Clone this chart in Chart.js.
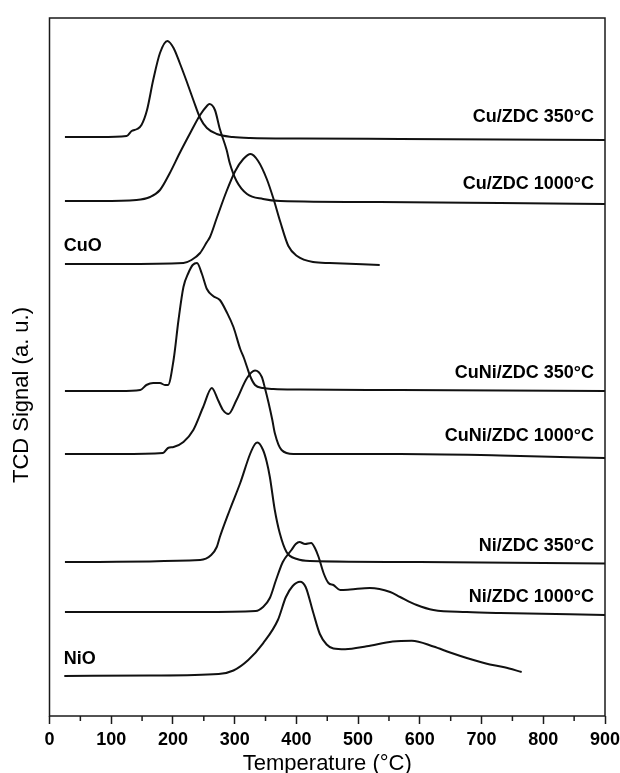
<!DOCTYPE html>
<html>
<head>
<meta charset="utf-8">
<script src="https://cdn.jsdelivr.net/npm/chart.js@4.4.1/dist/chart.umd.min.js"></script>
<style>
  html, body { margin: 0; padding: 0; background: #fff; }
  #wrap { width: 620px; height: 773px; position: relative; }
</style>
</head>
<body>
<div id="wrap"><canvas id="tpr" width="620" height="773"></canvas></div>
<script>
// H2-TPR profiles: temperature (°C) and TCD signal (a.u., vertically offset per sample)
const cuZdc350T = [25, 82, 125, 133, 142, 149, 158, 168, 179, 191, 201, 211, 222, 233, 244, 255, 271, 297, 325, 406, 568, 730, 900];
const cuZdc350S = [579, 579, 580, 585, 587, 591, 606, 636, 663, 675, 668, 653, 635, 616, 598, 588, 582, 579, 578, 577.5, 577, 576.5, 576];

const cuZdc1000T = [25, 82, 141, 163, 179, 195, 211, 228, 244, 255, 259, 268, 276, 287, 292, 303, 320, 346, 374, 535, 730, 900];
const cuZdc1000S = [515, 515, 516, 519, 526, 543, 563, 583, 601, 610, 612, 606, 587, 566, 553, 535, 522, 517, 515, 514, 513, 512];

const cuOT = [25, 114, 217, 230, 244, 255, 260, 271, 287, 301, 314, 326, 338, 352, 363, 374, 387, 401, 427, 454, 535];
const cuOS = [452, 452, 453, 456, 463, 474, 479, 498, 525, 545, 557, 562, 555, 537, 517, 494, 470, 460, 454, 453, 451];

const cuNiZdc350T = [25, 114, 147, 157, 168, 179, 187, 192, 201, 209, 217, 225, 232, 239, 247, 255, 265, 276, 287, 298, 309, 315, 320, 325, 333, 346, 363, 406, 568, 900];
const cuNiZdc350S = [325, 325, 326, 331, 333, 333, 331, 331, 356, 396, 429, 443, 451, 453, 442, 427, 420, 416, 404, 389, 367, 358, 349, 340, 331, 328, 327, 326.5, 326, 325];

const cuNiZdc1000T = [25, 114, 184, 192, 201, 217, 233, 249, 263, 273, 281, 290, 303, 320, 333, 344, 349, 355, 361, 365, 376, 395, 568, 730, 900];
const cuNiZdc1000S = [262, 262, 263, 268, 269, 274, 286, 309, 328, 316, 306, 302, 316, 338, 345.5, 339, 328, 313, 296, 283, 266, 262, 262, 260.5, 258];

const niZdc350T = [25, 244, 262, 271, 276, 292, 309, 325, 333, 337, 346, 352, 357, 365, 373, 384, 401, 422, 600, 900];
const niZdc350S = [154, 156, 161, 169, 179, 206, 233, 262, 272, 273.5, 266, 254, 239, 206, 183, 164, 157, 155, 154, 152.5];

const niZdc1000T = [25, 244, 334, 346, 357, 367, 378, 392, 399, 405, 414, 424, 430, 436, 444, 452, 460, 471, 487, 519, 552, 568, 595, 622, 676, 730, 900];
const niZdc1000S = [104, 104, 105, 109, 118, 136, 154, 166, 172, 174, 172, 173, 168, 159, 143, 133, 131, 126, 126.5, 128, 124, 119, 111, 106, 104, 103, 101];

const niOT = [24, 163, 274, 298, 322, 346, 370, 383, 394, 406, 415, 427, 438, 449, 460, 479, 514, 556, 587, 622, 649, 676, 707, 737, 765];
const niOS = [40, 40.5, 42, 45.5, 56, 72.7, 96, 119, 130, 134.3, 129, 104, 82, 71.5, 67.5, 66.7, 69.7, 74.5, 75.3, 69.5, 63.5, 58, 52.5, 48.7, 44];

// sample names and where each name sits (temperature, signal)
const sampleNames = ['Cu/ZDC 350°C', 'Cu/ZDC 1000°C', 'CuO', 'CuNi/ZDC 350°C', 'CuNi/ZDC 1000°C', 'Ni/ZDC 350°C', 'Ni/ZDC 1000°C', 'NiO'];
const nameAnchorT = [882, 882, 23, 882, 882, 882, 882, 23];
const nameAnchorS = [599, 532, 470, 343, 280, 170, 119, 57];
const nameAlign = ['right', 'right', 'left', 'right', 'right', 'right', 'right', 'left'];

const xMajorTicks = [0, 100, 200, 300, 400, 500, 600, 700, 800, 900];
const xMinorTicks = [50, 150, 250, 350, 450, 550, 650, 750, 850];

const series = [
  [cuZdc350T, cuZdc350S],
  [cuZdc1000T, cuZdc1000S],
  [cuOT, cuOS],
  [cuNiZdc350T, cuNiZdc350S],
  [cuNiZdc1000T, cuNiZdc1000S],
  [niZdc350T, niZdc350S],
  [niZdc1000T, niZdc1000S],
  [niOT, niOS]
];

const FONT = '"Liberation Sans", Arial, Helvetica, sans-serif';
const INK = '#111';

const datasets = series.map(([t, s], i) => ({
  label: sampleNames[i],
  data: t.map((v, k) => ({ x: v, y: s[k] })),
  showLine: true,
  borderColor: INK,
  borderWidth: 2,
  pointRadius: 0,
  fill: false,
  cubicInterpolationMode: 'monotone'
}));

// frame, minor ticks, sample names and axis titles
const decor = {
  id: 'decor',
  afterDraw(chart) {
    const { ctx, chartArea: a, scales: { x, y } } = chart;
    ctx.save();
    ctx.strokeStyle = '#1a1a1a';
    ctx.lineWidth = 1.5;
    ctx.strokeRect(a.left, a.top, a.right - a.left, a.bottom - a.top);

    ctx.beginPath();
    xMinorTicks.forEach(v => {
      const px = x.getPixelForValue(v);
      ctx.moveTo(px, a.bottom);
      ctx.lineTo(px, a.bottom + 5);
    });
    ctx.stroke();

    ctx.fillStyle = '#000';
    ctx.font = 'bold 18px ' + FONT;
    ctx.textBaseline = 'middle';
    sampleNames.forEach((name, i) => {
      ctx.textAlign = nameAlign[i];
      ctx.fillText(name, x.getPixelForValue(nameAnchorT[i]), y.getPixelForValue(nameAnchorS[i]));
    });

    ctx.font = '22px ' + FONT;
    ctx.textAlign = 'center';
    ctx.fillText('Temperature (°C)', (a.left + a.right) / 2, 764);

    ctx.translate(22, 395);
    ctx.rotate(-Math.PI / 2);
    ctx.fillText('TCD Signal (a. u.)', 0, 0);
    ctx.restore();
  }
};

new Chart(document.getElementById('tpr'), {
  type: 'scatter',
  data: { datasets },
  options: {
    responsive: false,
    animation: false,
    devicePixelRatio: 1,
    layout: { padding: { top: 18, right: 15, left: 0, bottom: 0 } },
    plugins: { legend: { display: false }, tooltip: { enabled: false } },
    scales: {
      x: {
        type: 'linear',
        min: 0,
        max: 900,
        afterBuildTicks: s => { s.ticks = xMajorTicks.map(v => ({ value: v })); },
        afterFit: s => { s.height = 57; s.paddingLeft = 0; s.paddingRight = 0; },
        ticks: { color: '#000', font: { family: FONT, size: 18, weight: 'bold' }, padding: 5, maxRotation: 0 },
        grid: { drawOnChartArea: false, tickLength: 8, tickColor: '#1a1a1a', tickWidth: 1.5 },
        border: { display: false }
      },
      y: {
        type: 'linear',
        min: 0,
        max: 698,
        afterFit: s => { s.width = 49.5; s.paddingTop = 0; s.paddingBottom = 0; },
        ticks: { display: false },
        grid: { display: false },
        border: { display: false }
      }
    }
  },
  plugins: [decor]
});
</script>
</body>
</html>
